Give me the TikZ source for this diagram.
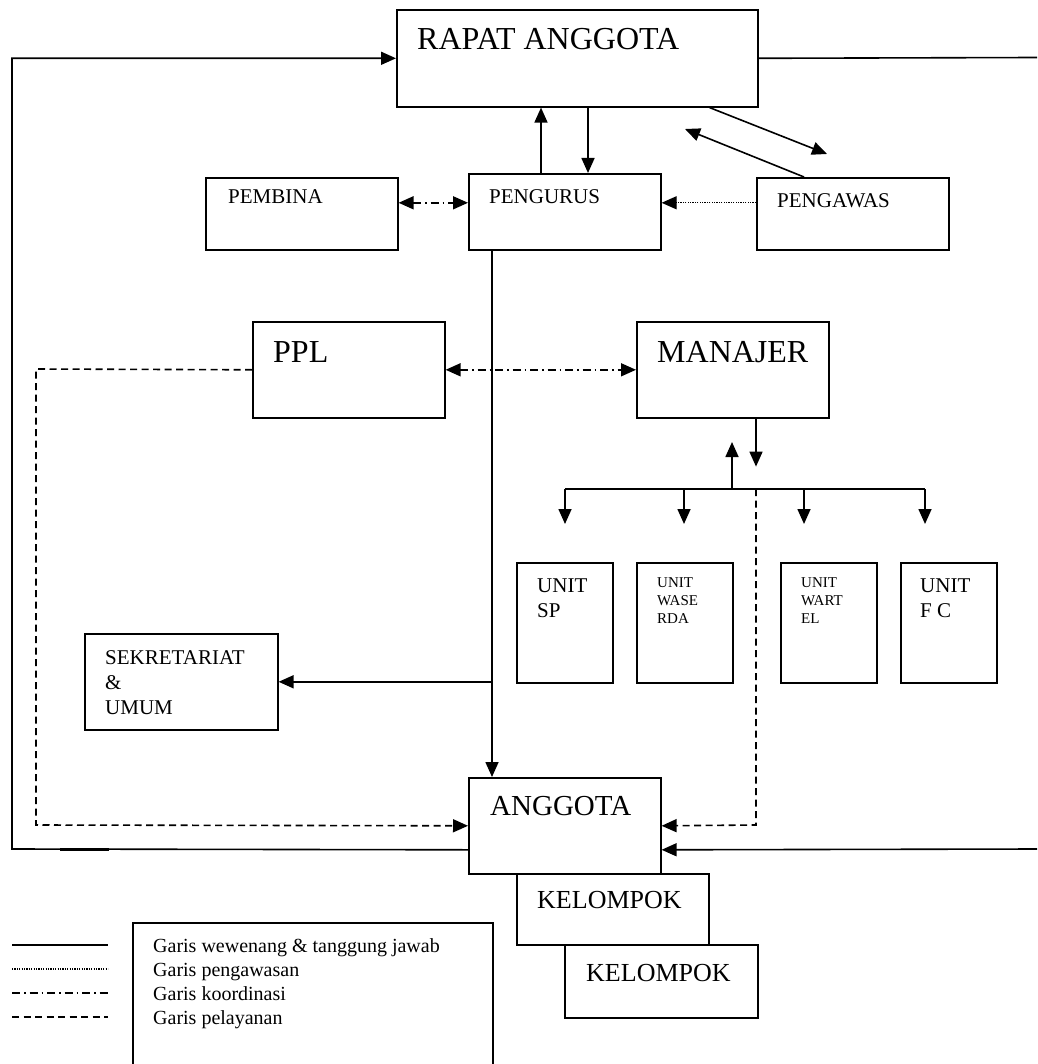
\documentclass[tikz,border=0pt]{standalone}
\usepackage{fontspec}
\setmainfont{Liberation Serif}
\usetikzlibrary{arrows.meta}

\tikzset{
  kotak/.style={draw, line width=1.6pt, anchor=north west, inner sep=0pt},
  teks/.style={anchor=base west, inner sep=0pt, align=left},
  besar/.style={font=\fontsize{32}{38}\selectfont},
  sedang/.style={font=\fontsize{21}{25}\selectfont},
  kecil/.style={font=\fontsize{15}{18}\selectfont},
  garis/.style={line width=1.6pt},
  ujung/.tip={Triangle[length=15pt,width=13pt]},
  panah/.style={garis, -ujung},
  awas/.style={line width=1.2pt, dash pattern=on 1.2pt off 1.2pt},
  koord/.style={garis, dash pattern=on 8pt off 4pt on 1.5pt off 4pt},
  layan/.style={garis, dash pattern=on 7pt off 4.5pt},
}

\begin{document}
\begin{tikzpicture}[x=1pt, y=-1pt]
\useasboundingbox (0,0) rectangle (1037,1064);

% ===== kotak =====
\node[kotak, minimum width=361pt, minimum height=97pt] (rapat) at (396,9) {};
\node[teks, besar] at (417,50) {RAPAT ANGGOTA};

\node[kotak, minimum width=192pt, minimum height=72pt] (pembina) at (205,177) {};
\node[teks, sedang] at (228,204) {PEMBINA};

\node[kotak, minimum width=192pt, minimum height=76pt] (pengurus) at (468,173) {};
\node[teks, sedang] at (489,204) {PENGURUS};

\node[kotak, minimum width=192pt, minimum height=72pt] (pengawas) at (756,177) {};
\node[teks, sedang] at (777,208) {PENGAWAS};

\node[kotak, minimum width=192pt, minimum height=96pt] (ppl) at (252,321) {};
\node[teks, besar] at (273,362) {PPL};

\node[kotak, minimum width=192pt, minimum height=96pt] (manajer) at (636,321) {};
\node[teks, besar] at (657,362) {MANAJER};

% unit usaha (titik teks = garis dasar baris terakhir)
\node[kotak, minimum width=96pt, minimum height=120pt] (unitsp) at (516,562) {};
\node[teks, sedang] at (537,617) {UNIT\\SP};
\node[kotak, minimum width=96pt, minimum height=120pt] (waserda) at (636,562) {};
\node[teks, kecil] at (657,623) {UNIT\\WASE\\RDA};
\node[kotak, minimum width=96pt, minimum height=120pt] (wartel) at (780,562) {};
\node[teks, kecil] at (801,623) {UNIT\\WART\\EL};
\node[kotak, minimum width=96pt, minimum height=120pt] (unitfc) at (900,562) {};
\node[teks, sedang] at (920,617) {UNIT\\F C};

\node[kotak, minimum width=193pt, minimum height=96pt] (sekretariat) at (84,633) {};
\node[teks, sedang] at (105,714) {SEKRETARIAT\\\&\\UMUM};

\node[kotak, minimum width=192pt, minimum height=96pt] (anggota) at (468,777) {};
\node[teks, font=\fontsize{29}{34}\selectfont] at (490,815) {ANGGOTA};

\node[kotak, minimum width=192pt, minimum height=71pt] (kelompoka) at (516,873) {};
\node[teks, font=\fontsize{26}{30}\selectfont] at (537,908) {KELOMPOK};
\node[kotak, minimum width=193pt, minimum height=73pt] (kelompokb) at (564,944) {};
\node[teks, font=\fontsize{26}{30}\selectfont] at (586,981) {KELOMPOK};

% ===== garis wewenang =====
\draw[panah] ([xshift=73pt]pengurus.north west) -- ([xshift=73pt]pengurus.north west |- rapat.south);
\draw[panah] ([xshift=120pt]pengurus.north west |- rapat.south) -- ([xshift=120pt]pengurus.north west);

\coordinate (keawas) at (827,154);
\coordinate (kerapat) at (685,129);
\draw[panah] ([xshift=-49pt]rapat.south east) -- (keawas);
\draw[panah] ([xshift=48pt]pengawas.north west) -- (kerapat);

% kiri: anggota ke rapat anggota
\coordinate (kiribawah) at (12,849);
\draw[panah] ([yshift=-24pt]anggota.west) -- (kiribawah) -- (kiribawah |- rapat.west) -- (rapat.west);
\draw[line width=3pt] (60,849) -- (109,849);

% kanan
\coordinate (kananatas) at (1037,57.5);
\coordinate (kananbawah) at (1037,849);
\draw[garis] (rapat.east) -- (kananatas);
\draw[panah] (kananbawah) -- ([yshift=-24pt]anggota.east);

% pengurus ke anggota & sekretariat
\draw[panah] ([xshift=24pt]pengurus.south west) -- ([xshift=24pt]anggota.north west);
\draw[panah] ([xshift=24pt]pengurus.south west |- sekretariat.east) -- (sekretariat.east);

% manajer ke unit
\coordinate (busL) at (565,489);
\coordinate (busR) at (925,489);
\draw[panah] ([xshift=120pt]manajer.south west) -- ++(0,48);
\draw[panah] (732,489) -- (732,442);
\draw[garis] (busL) -- (busR);
\foreach \x in {565,684,804,925}
  \draw[panah] (\x,489) -- (\x,524);

% ===== garis pengawasan & koordinasi =====
\draw[awas, -ujung] ([yshift=11pt]pengawas.west) -- ([yshift=11pt]pengawas.west -| pengurus.east);
\draw[koord, ujung-ujung] ([yshift=11pt]pembina.east) -- ([yshift=11pt]pembina.east -| pengurus.west);
\draw[koord, ujung-ujung] (ppl.east) -- (manajer.west);

% ===== garis pelayanan =====
\draw[layan, -ujung] (ppl.west) -- (36,369) -- (36,825) -- (anggota.west);
\draw[layan, -ujung] (756,489) -- (756,825) -- (anggota.east);

% ===== keterangan =====
\node[kotak, minimum width=360pt, minimum height=150pt] (legenda) at (132,922) {};
\draw[garis] (12,945) -- (108,945);
\draw[awas] (12,969) -- (108,969);
\draw[koord] (12,993) -- (108,993);
\draw[layan] (12,1017) -- (108,1017);
\node[teks, font=\fontsize{20}{24}\selectfont] at (153,1024)
  {Garis wewenang \& tanggung jawab\\Garis pengawasan\\Garis koordinasi\\Garis pelayanan};

\end{tikzpicture}
\end{document}
